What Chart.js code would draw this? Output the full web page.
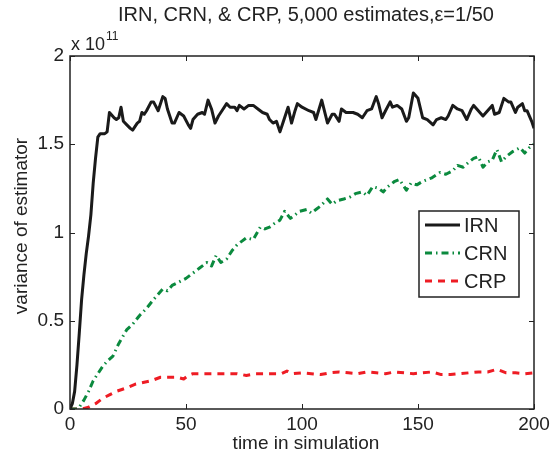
<!DOCTYPE html>
<html>
<head>
<meta charset="utf-8">
<script src="https://cdn.jsdelivr.net/npm/chart.js@4"></script>
<style>
  html, body { margin: 0; padding: 0; background: #fff; }
  #chart { display: block; }
</style>
</head>
<body>
<canvas id="chart" width="553" height="460"></canvas>
<script>
'use strict';

// values in units of 10^11
var irnX = [0, 1, 2, 3, 4, 5, 6, 7, 8, 9, 10, 11, 12, 13, 15, 16, 17, 19, 20, 21, 22, 23, 24.5, 26, 27, 29, 30, 31, 32, 33, 35, 36, 38, 40, 41, 42, 44, 45, 47, 49, 51, 52, 53, 55, 57, 58, 59.5, 61, 62.5, 64, 65.5, 67.5, 69, 71, 72, 73, 75, 77, 79, 81, 83, 85, 86, 87.5, 89, 90.5, 92, 94, 95.5, 97, 98, 100, 103, 105, 106, 108.5, 111, 113, 114, 116, 117, 119, 122, 124, 126, 128, 130, 132, 133, 134.5, 136, 138, 139, 141, 143, 145, 146, 148, 150, 152, 154, 156.5, 158, 160, 162, 163, 165, 167, 169, 171, 173, 174, 176, 178, 180, 182, 183, 185, 187, 189, 190, 192, 193, 195, 196, 197, 199, 200];
var irnY = [0, 0.03, 0.1, 0.25, 0.43, 0.62, 0.76, 0.88, 0.98, 1.1, 1.28, 1.42, 1.54, 1.56, 1.56, 1.57, 1.68, 1.65, 1.64, 1.65, 1.71, 1.63, 1.61, 1.59, 1.58, 1.62, 1.63, 1.68, 1.67, 1.69, 1.74, 1.74, 1.69, 1.77, 1.76, 1.70, 1.62, 1.62, 1.68, 1.66, 1.61, 1.59, 1.64, 1.67, 1.68, 1.67, 1.75, 1.70, 1.62, 1.66, 1.69, 1.73, 1.71, 1.71, 1.69, 1.72, 1.70, 1.72, 1.72, 1.70, 1.68, 1.67, 1.64, 1.62, 1.63, 1.57, 1.63, 1.71, 1.62, 1.69, 1.73, 1.71, 1.69, 1.68, 1.64, 1.75, 1.62, 1.67, 1.67, 1.63, 1.70, 1.68, 1.68, 1.67, 1.65, 1.69, 1.70, 1.77, 1.73, 1.65, 1.69, 1.74, 1.71, 1.72, 1.70, 1.63, 1.65, 1.79, 1.76, 1.65, 1.64, 1.61, 1.64, 1.65, 1.64, 1.66, 1.72, 1.70, 1.69, 1.64, 1.70, 1.72, 1.69, 1.66, 1.69, 1.72, 1.67, 1.68, 1.76, 1.74, 1.74, 1.68, 1.71, 1.73, 1.69, 1.69, 1.63, 1.59];

var crnX = [0, 3, 4, 6, 8, 10, 12, 14, 16, 18.5, 21, 24.5, 27, 30, 33, 36, 38, 40, 42, 44, 47, 50, 53, 56, 59, 61, 63, 65, 67.5, 70, 72, 74, 76, 79, 82, 84, 86, 88, 90.5, 92.5, 95, 97, 99, 102, 104, 106, 108, 111, 113, 115, 118, 120.5, 123, 126, 128, 130.5, 133, 135, 137, 140, 142, 145, 147, 149.5, 152, 154, 156, 159.5, 162, 165, 167, 169.5, 172, 174, 176, 178, 180, 182, 184, 186, 188, 191, 194, 196, 198, 200];
var crnY = [0, 0, 0.01, 0.05, 0.1, 0.16, 0.2, 0.24, 0.27, 0.30, 0.37, 0.45, 0.48, 0.53, 0.57, 0.62, 0.65, 0.68, 0.67, 0.70, 0.72, 0.74, 0.77, 0.80, 0.83, 0.81, 0.87, 0.83, 0.85, 0.90, 0.93, 0.95, 0.97, 0.96, 1.03, 1.02, 1.03, 1.05, 1.07, 1.12, 1.08, 1.10, 1.12, 1.13, 1.11, 1.13, 1.15, 1.19, 1.16, 1.18, 1.19, 1.20, 1.22, 1.23, 1.21, 1.26, 1.25, 1.23, 1.26, 1.29, 1.30, 1.24, 1.28, 1.27, 1.29, 1.30, 1.31, 1.34, 1.33, 1.35, 1.38, 1.37, 1.40, 1.42, 1.43, 1.37, 1.40, 1.41, 1.47, 1.40, 1.43, 1.46, 1.48, 1.45, 1.48, 1.50];

var crpX = [0, 5, 8, 11, 14, 17, 20, 24.5, 28, 31.5, 35, 39, 43, 46, 49, 51, 53, 57, 61, 65, 68, 72, 76, 80, 84, 88, 91, 93.5, 96, 100, 104, 108, 112, 116, 120, 124, 128, 132, 136, 140, 144, 148, 152, 156, 160, 164, 168, 172, 176, 180, 184, 188, 192, 196, 200];
var crpY = [0, 0, 0.01, 0.03, 0.06, 0.08, 0.10, 0.12, 0.14, 0.15, 0.16, 0.18, 0.18, 0.18, 0.17, 0.19, 0.20, 0.20, 0.20, 0.20, 0.20, 0.20, 0.19, 0.20, 0.20, 0.20, 0.20, 0.215, 0.20, 0.205, 0.20, 0.195, 0.205, 0.21, 0.205, 0.20, 0.21, 0.205, 0.20, 0.21, 0.205, 0.20, 0.205, 0.21, 0.195, 0.195, 0.20, 0.205, 0.21, 0.21, 0.225, 0.205, 0.205, 0.20, 0.205];

var seriesNames = ['IRN', 'CRN', 'CRP'];
var xTicks = [0, 50, 100, 150, 200];
var yTicks = [0, 0.5, 1, 1.5, 2];

var titleText = 'IRN, CRN, & CRP, 5,000 estimates,\u03b5=1/50';
var xTitle = 'time in simulation';
var yTitle = 'variance of estimator';

var FONT = '"Liberation Sans", Arial, Helvetica, sans-serif';
var INK = '#222';

function pts(xs, ys) {
    var out = [];
    for (let i = 0; i < xs.length; i++) out.push({ x: xs[i], y: ys[i] });
    return out;
}

var data = {
    datasets: [
        {
            label: seriesNames[0],
            data: pts(irnX, irnY),
            borderColor: '#1a1a1a',
            borderWidth: 3
        },
        {
            label: seriesNames[1],
            data: pts(crnX, crnY),
            borderColor: '#0b8a3e',
            borderWidth: 3,
            borderDash: [7, 4, 1.5, 4]
        },
        {
            label: seriesNames[2],
            data: pts(crpX, crpY),
            borderColor: '#ee1c24',
            borderWidth: 3,
            borderDash: [7, 6]
        }
    ]
};

// frame, inward ticks, titles, exponent and legend, drawn MATLAB-style
var matlabDecor = {
    id: 'matlabDecor',
    afterDatasetsDraw: function (chart) {
        var ctx = chart.ctx;
        var a = chart.chartArea;
        var sx = chart.scales.x, sy = chart.scales.y;
        ctx.save();

        ctx.strokeStyle = INK;
        ctx.lineWidth = 1.5;
        ctx.strokeRect(a.left, a.top, a.right - a.left, a.bottom - a.top);

        ctx.lineWidth = 1;
        ctx.beginPath();
        xTicks.forEach(function (t) {
            var px = Math.round(sx.getPixelForValue(t)) + 0.5;
            ctx.moveTo(px, a.bottom); ctx.lineTo(px, a.bottom - 5);
            ctx.moveTo(px, a.top); ctx.lineTo(px, a.top + 5);
        });
        yTicks.forEach(function (t) {
            var py = Math.round(sy.getPixelForValue(t)) + 0.5;
            ctx.moveTo(a.left, py); ctx.lineTo(a.left + 5, py);
            ctx.moveTo(a.right, py); ctx.lineTo(a.right - 5, py);
        });
        ctx.stroke();

        ctx.fillStyle = INK;
        ctx.textAlign = 'center';
        ctx.textBaseline = 'middle';
        ctx.font = '20px ' + FONT;
        ctx.fillText(titleText, (a.left + a.right) / 2 + 4, 15);
        ctx.font = '19px ' + FONT;
        ctx.fillText(xTitle, (a.left + a.right) / 2 + 4, 444);

        ctx.save();
        ctx.translate(22, 226);
        ctx.rotate(-Math.PI / 2);
        ctx.fillText(yTitle, 0, 0);
        ctx.restore();

        // exponent
        ctx.textAlign = 'left';
        ctx.textBaseline = 'alphabetic';
        ctx.font = '18px ' + FONT;
        ctx.fillText('x 10', a.left + 1, a.top - 6);
        var w = ctx.measureText('x 10').width;
        ctx.font = '12px ' + FONT;
        ctx.fillText('11', a.left + 2 + w, a.top - 16);

        // legend
        var lx = 419, ly = 211, lw = 100, lh = 86;
        ctx.fillStyle = '#fff';
        ctx.fillRect(lx, ly, lw, lh);
        ctx.strokeStyle = INK;
        ctx.lineWidth = 1.5;
        ctx.strokeRect(lx, ly, lw, lh);
        ctx.font = '20px ' + FONT;
        ctx.textBaseline = 'middle';
        chart.data.datasets.forEach(function (ds, i) {
            var yy = ly + 14 + i * 28;
            ctx.strokeStyle = ds.borderColor;
            ctx.lineWidth = ds.borderWidth;
            ctx.setLineDash(ds.borderDash || []);
            ctx.beginPath();
            ctx.moveTo(lx + 6, yy);
            ctx.lineTo(lx + 41, yy);
            ctx.stroke();
            ctx.setLineDash([]);
            ctx.fillStyle = INK;
            ctx.fillText(ds.label, lx + 45, yy + 1);
        });

        ctx.restore();
    }
};

var chart = new Chart(document.getElementById('chart').getContext('2d'), {
    type: 'line',
    data: data,
    options: {
        responsive: false,
        animation: false,
        events: [],
        layout: { padding: { top: 56, right: 19, left: 0, bottom: 0 } },
        elements: {
            point: { radius: 0 },
            line: { tension: 0, borderJoinStyle: 'round', borderCapStyle: 'butt' }
        },
        plugins: {
            legend: { display: false },
            title: { display: false },
            tooltip: { enabled: false }
        },
        scales: {
            x: {
                type: 'linear',
                min: 0,
                max: 200,
                afterBuildTicks: function (s) { s.ticks = xTicks.map(function (v) { return { value: v }; }); },
                afterFit: function (s) { s.height = 51; s.paddingLeft = 0; s.paddingRight = 0; },
                grid: { display: false, drawTicks: false },
                border: { display: false },
                ticks: { color: INK, font: { size: 19, family: FONT }, padding: 4, maxRotation: 0 }
            },
            y: {
                type: 'linear',
                min: 0,
                max: 2,
                afterBuildTicks: function (s) { s.ticks = yTicks.map(function (v) { return { value: v }; }); },
                afterFit: function (s) { s.width = 70; s.paddingTop = 0; s.paddingBottom = 0; },
                grid: { display: false, drawTicks: false },
                border: { display: false },
                ticks: {
                    color: INK,
                    font: { size: 19, family: FONT },
                    padding: 6,
                    callback: function (v) { return String(v); }
                }
            }
        }
    },
    plugins: [matlabDecor]
});
</script>
</body>
</html>
